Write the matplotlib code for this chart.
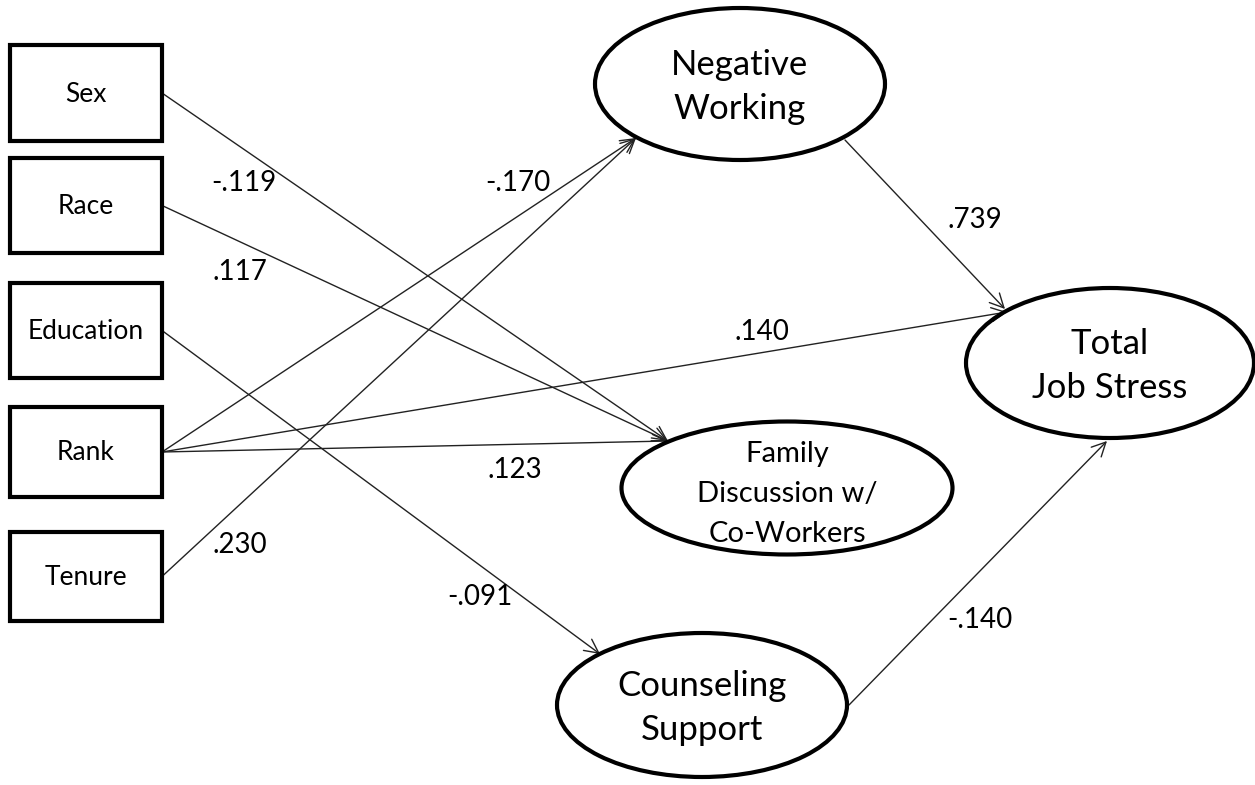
import matplotlib
matplotlib.use("Agg")
import matplotlib.pyplot as plt
from matplotlib.patches import Rectangle, Ellipse, FancyArrowPatch

# ---- data ----
observed = ["Sex", "Race", "Education", "Rank", "Tenure"]
latent = ["Negative\nWorking", "Total\nJob Stress", "Family\nDiscussion w/\nCo-Workers", "Counseling\nSupport"]
path_from = ["Sex", "Race", "Rank", "Rank", "Tenure", "Rank", "Negative\nWorking", "Education", "Counseling\nSupport"]
path_to = ["Family\nDiscussion w/\nCo-Workers", "Family\nDiscussion w/\nCo-Workers", "Family\nDiscussion w/\nCo-Workers",
           "Negative\nWorking", "Negative\nWorking", "Total\nJob Stress", "Total\nJob Stress",
           "Counseling\nSupport", "Total\nJob Stress"]
coef_labels = ["-.119", ".117", ".123", "-.170", ".230", ".140", ".739", "-.091", "-.140"]

# ---- layout (pixels) ----
box_x0, box_x1 = 10, 162
box_y = {"Sex": (45, 141), "Race": (158, 253), "Education": (283, 378), "Rank": (407, 497), "Tenure": (532, 621)}
ell = {"Negative\nWorking": (740, 84, 290, 152),
       "Total\nJob Stress": (1110, 363, 288, 150),
       "Family\nDiscussion w/\nCo-Workers": (787, 488, 331, 133),
       "Counseling\nSupport": (702, 705, 290, 144)}
start_pts = {"Negative\nWorking": (845, 140), "Counseling\nSupport": (849, 705)}
end_pts = {("Family\nDiscussion w/\nCo-Workers"): (668, 441),
           ("Negative\nWorking"): (636, 138)}
end_special = {("Rank", "Total\nJob Stress"): (1007, 312),
               ("Negative\nWorking", "Total\nJob Stress"): (1005, 309),
               ("Counseling\nSupport", "Total\nJob Stress"): (1107, 441),
               ("Education", "Counseling\nSupport"): (600, 654)}
label_pos = [(244, 183), (240, 272), (515, 470), (518, 183), (240, 545), (762, 332), (975, 220), (480, 597), (980, 620)]

fig = plt.figure(figsize=(12.55, 7.85), dpi=100)
ax = fig.add_axes([0, 0, 1, 1])
ax.set_xlim(0, 1255)
ax.set_ylim(785, 0)
ax.axis("off")

FONT = "Lato"

for name in observed:
    y0, y1 = box_y[name]
    ax.add_patch(Rectangle((box_x0, y0), box_x1 - box_x0, y1 - y0, fill=False, lw=3.0, ec="black", zorder=3))
    ax.text((box_x0 + box_x1) / 2, (y0 + y1) / 2 + 1, name, ha="center", va="center", fontsize=19, family=FONT, zorder=4)

for name in latent:
    cx, cy, w, h = ell[name]
    ax.add_patch(Ellipse((cx, cy), w, h, fill=False, lw=3.0, ec="black", zorder=3))
    if "Family" in name:
        fs, ls, dy = 21, 1.66, 6
    else:
        fs, ls, dy = 25, 1.45, 3
    ax.text(cx, cy + dy, name, ha="center", va="center", fontsize=fs, family=FONT, linespacing=ls, zorder=4)

for src, dst, lab, lp in zip(path_from, path_to, coef_labels, label_pos):
    if src in box_y:
        y0, y1 = box_y[src]
        p0 = (box_x1, (y0 + y1) / 2)
    else:
        p0 = start_pts[src]
    p1 = end_special.get((src, dst), end_pts.get(dst))
    ax.add_patch(FancyArrowPatch(p0, p1, arrowstyle="->,head_length=10,head_width=5",
                                 lw=1.0, color="#222222", shrinkA=0, shrinkB=0, zorder=2))
    ax.text(lp[0], lp[1], lab, ha="center", va="center", fontsize=20, family=FONT, zorder=4)

fig.savefig("out.png", dpi=100, facecolor="white")
